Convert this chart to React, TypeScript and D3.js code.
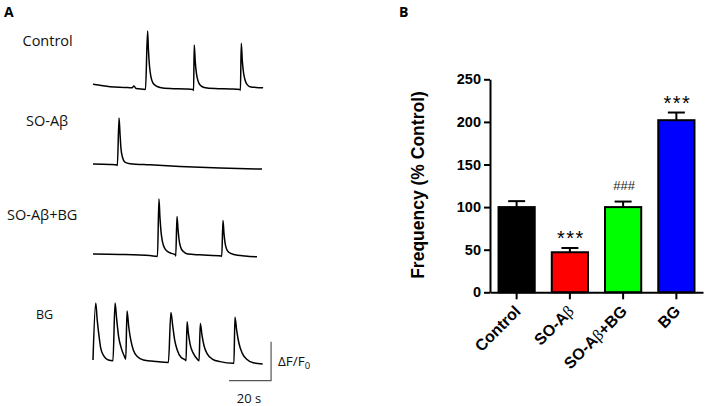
import { useEffect, useRef } from 'react';
import * as d3 from 'd3';

// ── Panel A: calcium traces, [time (s), ΔF/F0] ─────────────
const TRACE_NAMES = ['Control', 'SO-Aβ', 'SO-Aβ+BG', 'BG'];

const CONTROL_TRACE: [number, number][] = [
  [0, 0.12], [8.1, 0.06], [15.2, 0.04], [18.6, 0.03], [19.5, 0.08], [20.5, 0.01],
  [25.0, -0.01], [26.0, 1.49], [26.4, 1.0], [26.9, 0.59], [27.6, 0.31], [28.6, 0.15],
  [30.0, 0.08], [31.9, 0.04], [36.7, 0.01], [43.8, 0], [47.6, -0.01], [47.9, -0.04],
  [48.2, 1.13], [48.7, 0.69], [49.3, 0.38], [50.0, 0.21], [51.0, 0.10], [52.9, 0.04],
  [58.1, 0.01], [65.2, 0], [70.0, -0.01], [70.2, -0.03], [70.6, 1.17], [71.1, 0.72],
  [71.7, 0.41], [72.4, 0.23], [73.3, 0.12], [75.2, 0.05], [77.6, 0.04], [81.0, 0.03],
];

const SOAB_TRACE: [number, number][] = [
  [0, 0.05], [8.1, 0.04], [11.4, 0.03], [11.6, 0.01], [12.4, 1.23], [12.9, 0.79],
  [13.3, 0.46], [14.0, 0.23], [15.2, 0.10], [17.6, 0.06], [27.1, 0.03], [41.4, -0.01],
  [60.5, -0.05], [80.5, -0.08],
];

const SOAB_BG_TRACE: [number, number][] = [
  [0, 0.05], [12.9, 0.04], [27.1, 0.01], [30.7, -0.01], [31.4, 1.46], [31.9, 0.97],
  [32.4, 0.62], [33.1, 0.36], [34.3, 0.18], [36.2, 0.09], [39.3, 0.03], [39.4, 0],
  [40.0, 1.01], [40.5, 0.67], [41.0, 0.41], [41.7, 0.23], [42.9, 0.12], [45.2, 0.05],
  [50.9, 0.03], [61.2, 0], [61.3, -0.01], [61.9, 0.91], [62.4, 0.56], [62.9, 0.33],
  [63.6, 0.18], [64.8, 0.09], [67.1, 0.04], [72.4, 0], [78.1, -0.02],
];

const BG_TRACE: [number, number][] = [
  [0, 0.05], [1.3, 1.51], [2.0, 1.08], [2.9, 0.65], [3.7, 0.35], [5.2, 0.15],
  [7.3, 0.05], [9.5, 0.03], [10.5, 1.51], [11.3, 1.08], [12.2, 0.65], [13.5, 0.35],
  [14.9, 0.15], [15.6, 0.07], [16.2, 1.31], [17.0, 0.91], [18.0, 0.56], [19.2, 0.31],
  [21.1, 0.14], [24.0, 0.05], [30.3, 0.01], [35.9, -0.01], [37.1, 1.27], [38.0, 0.91],
  [38.9, 0.56], [40.1, 0.31], [41.9, 0.12], [44.0, 0.05], [44.3, 0.03], [44.8, 1.03],
  [45.4, 0.74], [46.3, 0.44], [47.8, 0.22], [49.7, 0.07], [50.5, 0.03], [51.1, 0.99],
  [51.9, 0.69], [52.9, 0.41], [54.4, 0.21], [57.0, 0.07], [60.5, 0.01], [66.8, -0.03],
  [67.1, -0.03], [67.6, 1.15], [68.4, 0.82], [69.5, 0.48], [71.1, 0.22], [73.2, 0.07],
  [76.3, -0.02], [80.8, -0.05],
];

const SCALE_SECONDS = 20;
const SCALE_DFF = 1;

// ── Panel B: frequency bars ─────────────────────────────────
const GROUPS = ['Control', 'SO-Aβ', 'SO-Aβ+BG', 'BG'];
const FREQ_MEAN = [100, 47, 100, 202];
const FREQ_SEM = [7, 5, 6.5, 9];
const BAR_COLORS = ['#000000', '#ff0000', '#00ff00', '#0000ff'];
const SIG_MARKS = ['', '***', '###', '***'];
const Y_TICKS = [0, 50, 100, 150, 200, 250];

const W = 709;
const H = 406;
const LABEL_FONT = '"Open Sans", sans-serif';
const BOLD_FONT = '"Liberation Sans", Arial, sans-serif';

export default function App() {
  const svgRef = useRef<SVGSVGElement>(null);

  useEffect(() => {
    if (!svgRef.current) return;
    const svg = d3.select(svgRef.current);
    svg.selectAll('*').remove();

    svg.append('rect').attr('width', W).attr('height', H).attr('fill', '#fff');

    // ── Panel A ──────────────────────────────────────────────
    svg.append('text').attr('x', 4).attr('y', 17)
      .attr('font-family', LABEL_FONT).attr('font-weight', 700).attr('font-size', 14)
      .text('A');

    const t = d3.scaleLinear().domain([0, 81]).range([93, 263.1]);
    const pxPerUnit = 39;

    const rows = [
      { data: CONTROL_TRACE, base: 89, lx: 22.5, ly: 46, fs: 14.5 },
      { data: SOAB_TRACE, base: 166, lx: 26, ly: 126, fs: 14.5 },
      { data: SOAB_BG_TRACE, base: 256, lx: 7, ly: 220, fs: 14.5 },
      { data: BG_TRACE, base: 362, lx: 36, ly: 319, fs: 12.5 },
    ];

    rows.forEach((row, i) => {
      const v = d3.scaleLinear().domain([0, 1]).range([row.base, row.base - pxPerUnit]);
      const line = d3.line<[number, number]>()
        .x(d => t(d[0]))
        .y(d => v(d[1]))
        .curve(d3.curveMonotoneX);

      svg.append('path').datum(row.data)
        .attr('fill', 'none').attr('stroke', '#000')
        .attr('stroke-width', 1.5).attr('stroke-linejoin', 'round')
        .attr('d', line);

      svg.append('text').attr('x', row.lx).attr('y', row.ly)
        .attr('font-family', LABEL_FONT).attr('font-size', row.fs).attr('fill', '#111')
        .text(TRACE_NAMES[i]);
    });

    // scale bar
    const sbEnd = 84.8;
    const sbBase = 380.7;
    const sv = d3.scaleLinear().domain([0, 1]).range([sbBase, sbBase - pxPerUnit]);
    svg.append('path')
      .attr('d', `M${t(sbEnd - SCALE_SECONDS)},${sbBase}H${t(sbEnd)}V${sv(SCALE_DFF)}`)
      .attr('fill', 'none').attr('stroke', '#555').attr('stroke-width', 1.2);

    const dff = svg.append('text').attr('x', 278).attr('y', 366)
      .attr('font-family', LABEL_FONT).attr('font-size', 13.5).attr('fill', '#111');
    dff.append('tspan').text('ΔF/F');
    dff.append('tspan').attr('dy', 3).attr('font-size', 9.5).text('0');

    svg.append('text').attr('x', (t(sbEnd - SCALE_SECONDS) + t(sbEnd)) / 2 - 1).attr('y', 403)
      .attr('text-anchor', 'middle')
      .attr('font-family', LABEL_FONT).attr('font-size', 13).attr('fill', '#111')
      .text(`${SCALE_SECONDS} s`);

    // ── Panel B ──────────────────────────────────────────────
    svg.append('text').attr('x', 399).attr('y', 17)
      .attr('font-family', LABEL_FONT).attr('font-weight', 700).attr('font-size', 14)
      .text('B');

    const y = d3.scaleLinear().domain([0, 250]).range([292.3, 79.3]);
    const x = d3.scaleBand<string>().domain(GROUPS).range([490, 703])
      .paddingInner(0.32).paddingOuter(0.16);

    const g = svg.append('g');

    GROUPS.forEach((grp, i) => {
      const cx = x(grp)! + x.bandwidth() / 2;
      const top = y(FREQ_MEAN[i] + FREQ_SEM[i]);

      // error bar (upper only)
      g.append('line').attr('x1', cx).attr('x2', cx)
        .attr('y1', y(FREQ_MEAN[i])).attr('y2', top)
        .attr('stroke', '#000').attr('stroke-width', 2);
      g.append('line').attr('x1', cx - 8.5).attr('x2', cx + 8.5)
        .attr('y1', top).attr('y2', top)
        .attr('stroke', '#000').attr('stroke-width', 2);

      g.append('rect')
        .attr('x', x(grp)!).attr('width', x.bandwidth())
        .attr('y', y(FREQ_MEAN[i])).attr('height', y(0) - y(FREQ_MEAN[i]))
        .attr('fill', BAR_COLORS[i]).attr('stroke', '#000').attr('stroke-width', 2);

      const mark = SIG_MARKS[i];
      if (mark) {
        const isHash = mark.startsWith('#');
        g.append('text').attr('x', cx + 1).attr('y', top - (isHash ? 12 : 3))
          .attr('text-anchor', 'middle')
          .attr('font-family', BOLD_FONT)
          .attr('font-size', isHash ? 13 : 20)
          .attr('letter-spacing', isHash ? 0 : 1.5)
          .attr('fill', isHash ? '#222' : '#000')
          .text(mark);
      }
    });

    // y axis
    svg.append('g').attr('transform', 'translate(490,0)')
      .call(d3.axisLeft(y).tickValues(Y_TICKS).tickSize(6).tickSizeOuter(0).tickPadding(3))
      .call(a => a.select('.domain').attr('stroke', '#000').attr('stroke-width', 2))
      .call(a => a.selectAll('.tick line').attr('stroke', '#000').attr('stroke-width', 2))
      .call(a => a.selectAll('.tick text')
        .attr('font-family', BOLD_FONT).attr('font-weight', 700)
        .attr('font-size', 14.5).attr('fill', '#000'));

    // x axis
    svg.append('g').attr('transform', `translate(0,${y(0)})`)
      .call(d3.axisBottom(x).tickSize(7).tickSizeOuter(0))
      .call(a => a.select('.domain').attr('stroke', '#000').attr('stroke-width', 2))
      .call(a => a.selectAll('.tick line').attr('stroke', '#000').attr('stroke-width', 2))
      .call(a => a.selectAll('.tick text').remove());

    GROUPS.forEach(grp => {
      const cx = x(grp)! + x.bandwidth() / 2;
      const lbl = svg.append('text')
        .attr('transform', `translate(${cx + 5},${y(0) + 20}) rotate(-45)`)
        .attr('text-anchor', 'end')
        .attr('font-family', BOLD_FONT).attr('font-weight', 700).attr('font-size', 16);
      const parts = grp.split('β');
      parts.forEach((p, k) => {
        if (k > 0) {
          lbl.append('tspan').attr('font-family', '"Liberation Serif", serif')
            .attr('font-weight', 400).text('β');
        }
        if (p) lbl.append('tspan').text(p);
      });
    });

    // y title
    svg.append('text')
      .attr('transform', 'translate(424,185) rotate(-90)')
      .attr('text-anchor', 'middle')
      .attr('font-family', BOLD_FONT).attr('font-weight', 700).attr('font-size', 17.5)
      .text('Frequency (% Control)');
  }, []);

  return (
    <svg ref={svgRef} width={W} height={H}
      style={{ position: 'absolute', left: 0, top: 0, display: 'block' }} />
  );
}
